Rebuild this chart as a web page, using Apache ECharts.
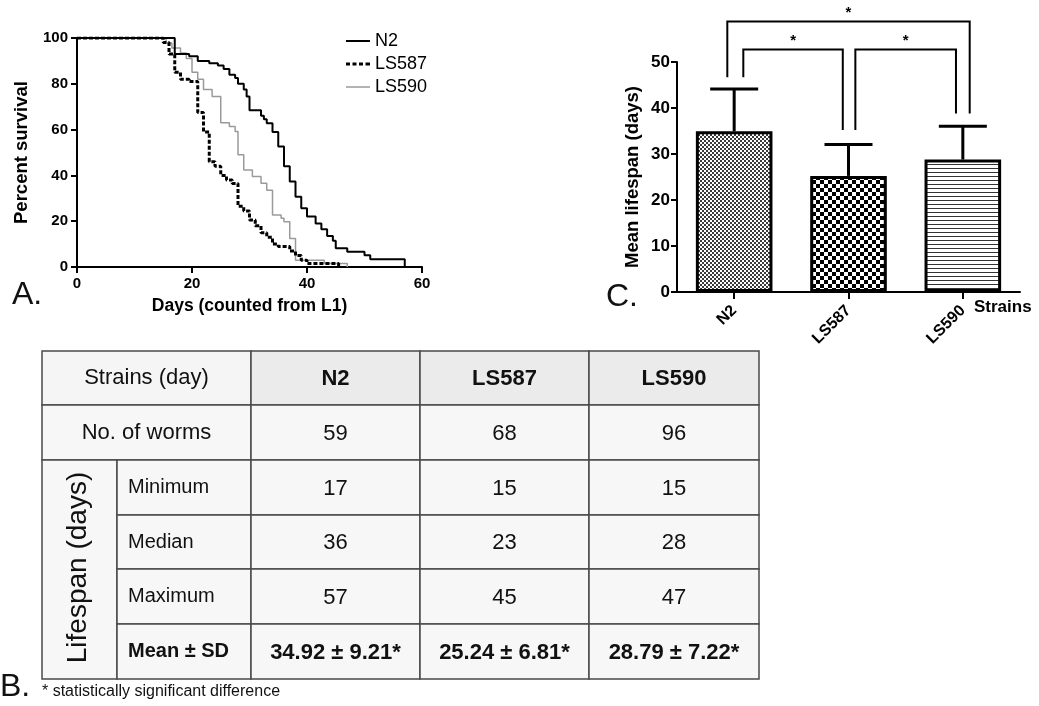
<!DOCTYPE html>
<html>
<head>
<meta charset="utf-8">
<script src="https://cdn.jsdelivr.net/npm/echarts@6/dist/echarts.min.js"></script>
<style>
  html, body { margin: 0; padding: 0; background: #fff; }
  #chart { width: 1039px; height: 706px; }
</style>
</head>
<body>
<div id="chart"></div>
<script>
// Panel A: survival curves (day, percent alive after that day's deaths)
const n2Days = [0, 17, 19.5, 21, 23, 24.5, 25.5, 26.5, 27.5, 28, 29, 29.5, 30, 32, 32.5, 33, 34, 35, 36, 37, 38, 39, 40, 41.5, 42.5, 43.5, 44.5, 45, 47, 50, 51, 57];
const n2Surv = [100, 93, 92, 90, 89, 88, 86.5, 84, 82.5, 80, 77.5, 74.5, 68.5, 66, 64.5, 62.8, 59, 52.6, 44, 37.3, 30.7, 25.7, 22, 19, 16.5, 13.5, 11.5, 8.2, 6.7, 5.1, 3.4, 0];
const ls587Days = [0, 15, 16, 17, 18, 19.5, 21, 22, 23, 24, 25, 26, 27, 28, 29, 30, 31, 32, 33, 34, 35, 37, 38, 39, 40, 45.5];
const ls587Surv = [100, 98, 93, 85, 82, 81, 67.5, 59, 46, 44, 40, 38, 36.5, 26.5, 24.5, 20.5, 18, 15, 13, 10, 9, 7, 5, 3, 1.5, 0];
const ls590Days = [0, 15.5, 16.5, 18, 19, 20, 21, 22, 23.5, 25, 26.5, 27.5, 28, 29, 30.5, 32, 33, 34, 35.5, 36, 37, 38, 43, 47];
const ls590Surv = [100, 97.8, 95.6, 93.4, 91, 85, 82, 77.5, 74.5, 63, 61.3, 59.2, 49, 42.4, 39.5, 36.6, 33.5, 22.7, 21.3, 19.8, 12.5, 3, 1.5, 0];

// Panel B / C: per-strain summary
const strainNames = ['N2', 'LS587', 'LS590'];
const wormCounts = [59, 68, 96];
const minLife = [17, 15, 15];
const medianLife = [36, 23, 28];
const maxLife = [57, 45, 47];
const meanLife = [34.92, 25.24, 28.79];
const sdLife = [9.21, 6.81, 7.22];
// significant pairs (category indexes)
const sigPairs = [[0, 1], [1, 2], [0, 2]];

// bracket layout (axis units / fraction of band)
const bracketTop = [52.7, 52.7, 58.8];
const bracketLeftEnd = [46.7, 35.2, 46.7];
const bracketRightEnd = [35.2, 38.8, 38.8];
const bracketOffL = [0.08, 0.06, -0.06];
const bracketOffR = [-0.05, -0.06, 0.06];

const FONT = '"Liberation Sans", Arial, sans-serif';

function makePattern(kind) {
  const c = document.createElement('canvas');
  const ctx = c.getContext('2d');
  if (kind === 'fine') {
    c.width = 4; c.height = 4;
    ctx.fillStyle = '#fff'; ctx.fillRect(0, 0, 4, 4);
    ctx.fillStyle = '#3a3a3a';
    ctx.fillRect(0, 0, 2, 2); ctx.fillRect(2, 2, 2, 2);
  } else if (kind === 'check') {
    c.width = 8; c.height = 8;
    ctx.fillStyle = '#fff'; ctx.fillRect(0, 0, 8, 8);
    ctx.fillStyle = '#000';
    ctx.fillRect(0, 0, 4, 4); ctx.fillRect(4, 4, 4, 4);
  } else {
    c.width = 4; c.height = 4;
    ctx.fillStyle = '#fff'; ctx.fillRect(0, 0, 4, 4);
    ctx.fillStyle = '#333'; ctx.fillRect(0, 0, 4, 1);
  }
  return c;
}
const patterns = [makePattern('fine'), makePattern('check'), makePattern('stripe')];

function zip(xs, ys) { return xs.map((x, i) => [x, ys[i]]); }

// table drawn with graphic elements
function tableElements() {
  const els = [];
  const colsX = [42, 117, 251, 420, 589, 759];
  const rowsY = [351, 405, 460, 515, 569, 624, 679];
  const cell = (x0, x1, y0, y1, fill) => els.push({
    type: 'rect', shape: { x: x0, y: y0, width: x1 - x0, height: y1 - y0 },
    style: { fill: fill, stroke: '#4a4a4a', lineWidth: 1.5 }, z: 1
  });
  const txt = (x, y, text, font, align) => els.push({
    type: 'text', x: x, y: y, z: 2,
    style: { text: text, font: font, fill: '#111', align: align || 'center', verticalAlign: 'middle',
             textAlign: align || 'center', textVerticalAlign: 'middle' }
  });
  const mid = (a, b) => (a + b) / 2;

  cell(colsX[0], colsX[2], rowsY[0], rowsY[1], '#f5f5f5');
  txt(mid(colsX[0], colsX[2]), mid(rowsY[0], rowsY[1]), 'Strains (day)', '22px ' + FONT);
  cell(colsX[0], colsX[2], rowsY[1], rowsY[2], '#f7f7f7');
  txt(mid(colsX[0], colsX[2]), mid(rowsY[1], rowsY[2]), 'No. of worms', '22px ' + FONT);
  cell(colsX[0], colsX[1], rowsY[2], rowsY[6], '#f7f7f7');
  els.push({
    type: 'text', x: mid(colsX[0], colsX[1]) - 1, y: mid(rowsY[2], rowsY[6]) - 2, rotation: Math.PI / 2, z: 2,
    style: { text: 'Lifespan (days)', font: '28px ' + FONT, fill: '#111', align: 'center', verticalAlign: 'middle',
             textAlign: 'center', textVerticalAlign: 'middle' }
  });

  const subLabels = ['Minimum', 'Median', 'Maximum', 'Mean ± SD'];
  const subValues = [minLife, medianLife, maxLife,
    meanLife.map((m, i) => m.toFixed(2) + ' ± ' + sdLife[i].toFixed(2) + '*')];
  subLabels.forEach((lab, r) => {
    const y0 = rowsY[r + 2], y1 = rowsY[r + 3];
    cell(colsX[1], colsX[2], y0, y1, '#f7f7f7');
    const bold = r === 3;
    txt(colsX[1] + 11, mid(y0, y1), lab, (bold ? 'bold ' : '') + '20px ' + FONT, 'left');
  });

  strainNames.forEach((name, c) => {
    const x0 = colsX[c + 2], x1 = colsX[c + 3], cx = mid(x0, x1);
    cell(x0, x1, rowsY[0], rowsY[1], '#ebebeb');
    txt(cx, mid(rowsY[0], rowsY[1]) + 1, name, 'bold 22px ' + FONT);
    cell(x0, x1, rowsY[1], rowsY[2], '#f7f7f7');
    txt(cx, mid(rowsY[1], rowsY[2]) + 1, String(wormCounts[c]), '22px ' + FONT);
    subValues.forEach((vals, r) => {
      const y0 = rowsY[r + 2], y1 = rowsY[r + 3];
      cell(x0, x1, y0, y1, '#f7f7f7');
      txt(cx, mid(y0, y1) + 1, String(vals[c]), (r === 3 ? 'bold ' : '') + '22px ' + FONT);
    });
  });

  txt(42, 692, '* statistically significant difference', '16px ' + FONT, 'left');
  // panel letters
  txt(12, 295, 'A.', '32px ' + FONT, 'left');
  txt(0, 687, 'B.', '32px ' + FONT, 'left');
  txt(606, 297, 'C.', '32px ' + FONT, 'left');
  return els;
}

const axisLineBlack = { show: true, lineStyle: { color: '#000', width: 2 } };
const tickBlack = { show: true, length: 6, lineStyle: { color: '#000', width: 2 } };
const boldLabel = { color: '#000', fontWeight: 'bold', fontSize: 15, fontFamily: FONT };
const boldLabelC = { color: '#000', fontWeight: 'bold', fontSize: 17, fontFamily: FONT };

const chart = echarts.init(document.getElementById('chart'), null, { renderer: 'canvas' });

const option = {
  animation: false,
  backgroundColor: '#fff',
  textStyle: { fontFamily: FONT },
  legend: {
    data: [
      { name: 'N2', icon: 'path://M0,0.5h24v2h-24z M0,0h0.01v3h-0.01z' },
      { name: 'LS587', icon: 'path://M0,0h4v3h-4z M6.5,0h4v3h-4z M13,0h4v3h-4z M19.5,0h4.5v3h-4.5z' },
      { name: 'LS590', icon: 'path://M0,0.75h24v1.5h-24z M0,0h0.01v3h-0.01z' }
    ],
    orient: 'vertical',
    left: 346,
    top: 32,
    padding: 0,
    itemWidth: 24,
    itemHeight: 3,
    itemGap: 5,
    itemStyle: { borderWidth: 0 },
    textStyle: { fontSize: 18, color: '#000', fontFamily: FONT }
  },
  grid: [
    { left: 77, top: 38, width: 345, height: 229 },
    { left: 677, top: 62, width: 343, height: 230 }
  ],
  xAxis: [
    {
      gridIndex: 0, type: 'value', min: 0, max: 60, interval: 20,
      axisLine: axisLineBlack, axisTick: tickBlack,
      axisLabel: Object.assign({ margin: 9 }, boldLabel),
      splitLine: { show: false },
      name: 'Days (counted from L1)', nameLocation: 'middle', nameGap: 30,
      nameTextStyle: { color: '#000', fontWeight: 'bold', fontSize: 17.5 }
    },
    {
      gridIndex: 1, type: 'category', data: strainNames,
      axisLine: axisLineBlack,
      axisTick: { show: true, alignWithLabel: true, length: 7, lineStyle: { color: '#000', width: 2 } },
      axisLabel: Object.assign({ rotate: 45, margin: 16, interval: 0 }, boldLabel, { fontSize: 16 }),
      name: 'Strains', nameLocation: 'end', nameGap: -46,
      nameTextStyle: { color: '#000', fontWeight: 'bold', fontSize: 17, align: 'left', verticalAlign: 'top', padding: [7, 0, 0, 0] }
    }
  ],
  yAxis: [
    {
      gridIndex: 0, type: 'value', min: 0, max: 100, interval: 20,
      axisLine: axisLineBlack, axisTick: tickBlack,
      axisLabel: Object.assign({ margin: 9 }, boldLabel),
      splitLine: { show: false },
      name: 'Percent survival', nameLocation: 'middle', nameGap: 46,
      nameTextStyle: { color: '#000', fontWeight: 'bold', fontSize: 18.5 }
    },
    {
      gridIndex: 1, type: 'value', min: 0, max: 50, interval: 10,
      axisLine: axisLineBlack, axisTick: tickBlack,
      axisLabel: Object.assign({ margin: 7 }, boldLabelC),
      splitLine: { show: false },
      name: 'Mean lifespan (days)', nameLocation: 'middle', nameGap: 35,
      nameTextStyle: { color: '#000', fontWeight: 'bold', fontSize: 18.5 }
    }
  ],
  series: [
    {
      name: 'LS590', type: 'line', step: 'end', xAxisIndex: 0, yAxisIndex: 0,
      data: zip(ls590Days, ls590Surv), symbol: 'none',
      lineStyle: { color: '#9a9a9a', width: 1.5 }, itemStyle: { color: '#9a9a9a' }, z: 2
    },
    {
      name: 'LS587', type: 'line', step: 'end', xAxisIndex: 0, yAxisIndex: 0,
      data: zip(ls587Days, ls587Surv), symbol: 'none',
      lineStyle: { color: '#000', width: 3, type: [4, 2] }, itemStyle: { color: '#000' }, z: 3
    },
    {
      name: 'N2', type: 'line', step: 'end', xAxisIndex: 0, yAxisIndex: 0,
      data: zip(n2Days, n2Surv), symbol: 'none',
      lineStyle: { color: '#000', width: 2 }, itemStyle: { color: '#000' }, z: 4
    },
    {
      name: 'Mean lifespan', type: 'bar', xAxisIndex: 1, yAxisIndex: 1,
      barWidth: '67%',
      data: meanLife.map((v, i) => ({
        value: v,
        itemStyle: { color: { image: patterns[i], repeat: 'repeat' }, borderColor: '#000', borderWidth: 3 }
      })),
      z: 2
    },
    {
      name: 'SD', type: 'custom', xAxisIndex: 1, yAxisIndex: 1,
      data: meanLife.map((m, i) => [i, m, sdLife[i]]),
      encode: { x: 0, y: 1 },
      renderItem: function (params, api) {
        const i = api.value(0);
        const base = api.coord([i, api.value(1)]);
        const top = api.coord([i, api.value(1) + api.value(2)]);
        const st = { stroke: '#000', lineWidth: 3 };
        return {
          type: 'group',
          children: [
            { type: 'line', shape: { x1: base[0], y1: base[1], x2: top[0], y2: top[1] }, style: st },
            { type: 'line', shape: { x1: top[0] - 24, y1: top[1], x2: top[0] + 24, y2: top[1] }, style: st }
          ]
        };
      },
      z: 3
    },
    {
      name: 'Significance', type: 'custom', xAxisIndex: 1, yAxisIndex: 1, clip: false,
      data: sigPairs.map((p, k) => [p[0], bracketTop[k], p[1], bracketLeftEnd[k], bracketRightEnd[k]]),
      encode: { x: 0, y: 1 },
      renderItem: function (params, api) {
        const k = params.dataIndex;
        const band = api.size([1, 0])[0];
        const a = api.coord([api.value(0), api.value(1)]);
        const b = api.coord([api.value(2), api.value(1)]);
        const ax = a[0] + bracketOffL[k] * band;
        const bx = b[0] + bracketOffR[k] * band;
        const aEnd = api.coord([api.value(0), api.value(3)]);
        const bEnd = api.coord([api.value(2), api.value(4)]);
        return {
          type: 'group',
          children: [
            {
              type: 'polyline',
              shape: { points: [[ax, aEnd[1]], [ax, a[1]], [bx, a[1]], [bx, bEnd[1]]] },
              style: { stroke: '#000', lineWidth: 2, fill: null }
            },
            {
              type: 'text', x: (ax + bx) / 2, y: a[1] - 1,
              style: { text: '*', font: 'bold 15px ' + FONT, fill: '#000', align: 'center', verticalAlign: 'bottom',
                       textAlign: 'center', textVerticalAlign: 'bottom' }
            }
          ]
        };
      },
      z: 3
    }
  ],
  graphic: { elements: tableElements() }
};

chart.setOption(option);
</script>
</body>
</html>
